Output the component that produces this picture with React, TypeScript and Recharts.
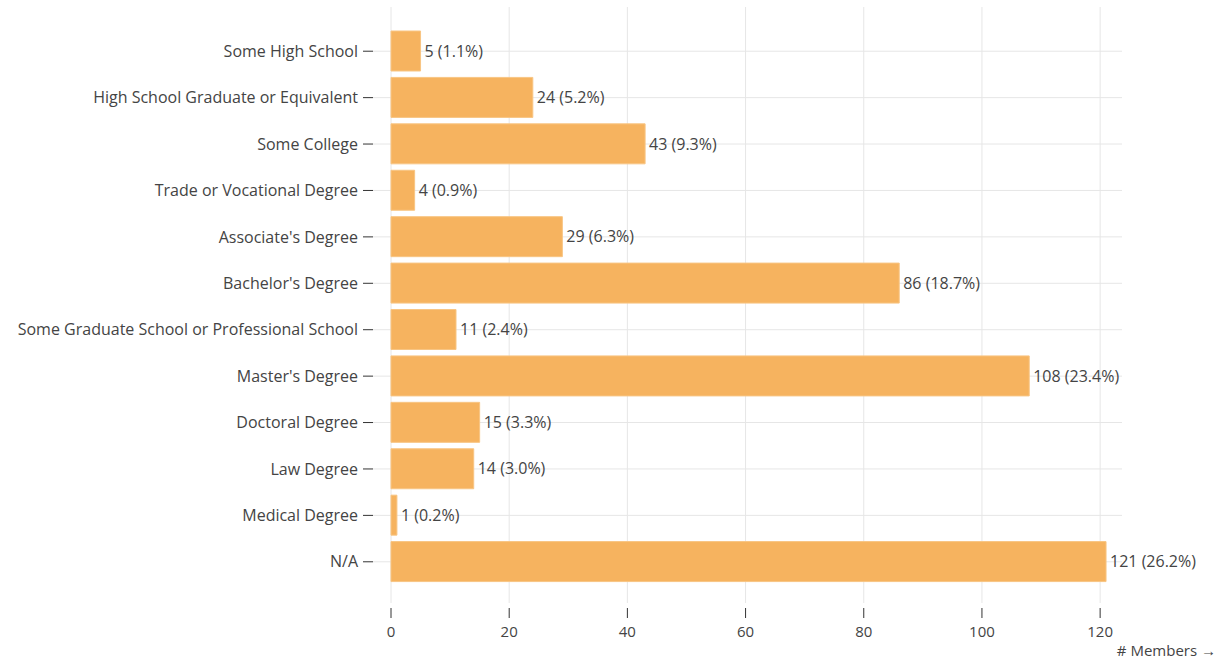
import React from 'react';
import { BarChart, Bar, XAxis, YAxis, CartesianGrid, LabelList } from 'recharts';

const categories = [
  'Some High School',
  'High School Graduate or Equivalent',
  'Some College',
  'Trade or Vocational Degree',
  "Associate's Degree",
  "Bachelor's Degree",
  'Some Graduate School or Professional School',
  "Master's Degree",
  'Doctoral Degree',
  'Law Degree',
  'Medical Degree',
  'N/A',
];
const members = [5, 24, 43, 4, 29, 86, 11, 108, 15, 14, 1, 121];
const xTicks = [0, 20, 40, 60, 80, 100, 120];

const total = members.reduce((a, b) => a + b, 0);
const data = categories.map((category, i) => ({
  category,
  members: members[i],
  label: `${members[i]} (${((members[i] / total) * 100).toFixed(1)}%)`,
}));

const textColor = '#444';
const fontSize = 16;

function XTick(props: any) {
  const { x, y, payload } = props;
  return (
    <g>
      <line x1={x} x2={x} y1={y + 5} y2={y + 15} stroke="#333" />
      <text x={x} y={y + 34} textAnchor="middle" fill={textColor} fontSize={fontSize - 1}>
        {payload.value}
      </text>
    </g>
  );
}

function AxisTitle(props: any) {
  const { viewBox } = props;
  return (
    <text x={viewBox.x + viewBox.width + 94} y={viewBox.y + 53} textAnchor="end" fill={textColor} fontSize={fontSize - 1}>
      # Members →
    </text>
  );
}

export default function App() {
  return (
    <div style={{ position: 'absolute', left: 0, top: 0, fontFamily: '"Open Sans", sans-serif', background: 'white' }}>
      <BarChart
        layout="vertical"
        width={1220}
        height={661}
        data={data}
        margin={{ top: 7, right: 98, bottom: 0, left: 0 }}
      >
        <CartesianGrid stroke="#e6e6e6" syncWithTicks />
        <XAxis
          type="number"
          domain={[0, 123.7]}
          ticks={xTicks}
          padding={{ left: 18 }}
          axisLine={false}
          tickLine={false}
          tickSize={0}
          tickMargin={0}
          height={58}
          tick={<XTick />}
          label={<AxisTitle />}
        />
        <YAxis
          type="category"
          dataKey="category"
          width={373}
          interval={0}
          axisLine={false}
          tickLine={{ stroke: '#333' }}
          tickSize={10}
          tickMargin={5}
          padding={{ top: 21, bottom: 18 }}
          tick={{ fill: textColor, fontSize }}
        />
        <Bar dataKey="members" fill="#f6b35f" stroke="#f8c583" strokeWidth={1} barSize={40} isAnimationActive={false}>
          <LabelList dataKey="label" position="right" offset={4} fill={textColor} fontSize={fontSize} />
        </Bar>
      </BarChart>
    </div>
  );
}
